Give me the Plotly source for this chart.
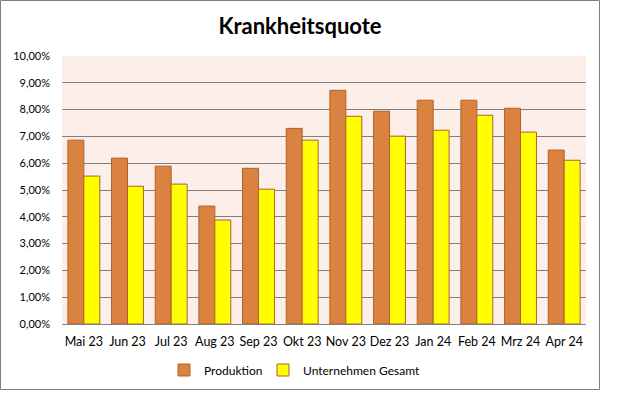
import plotly.graph_objects as go

months = ["Mai 23", "Jun 23", "Jul 23", "Aug 23", "Sep 23", "Okt 23",
          "Nov 23", "Dez 23", "Jan 24", "Feb 24", "Mrz 24", "Apr 24"]
produktion = [0.0686, 0.0619, 0.0589, 0.0440, 0.0581, 0.0730,
              0.0872, 0.0794, 0.0835, 0.0835, 0.0805, 0.0649]
gesamt = [0.0552, 0.0514, 0.0522, 0.0388, 0.0503, 0.0686,
          0.0775, 0.0701, 0.0723, 0.0779, 0.0716, 0.0611]
y_ticks = [i / 100 for i in range(0, 11)]
y_labels = [f"{i},00%" for i in range(0, 11)]

W, H = 626, 399
L, R, T, B = 62, 40, 56, 75
pw, ph = W - L - R, H - T - B

font = "Lato, 'Open Sans', sans-serif"

fig = go.Figure()
fig.add_trace(go.Bar(x=months, y=produktion, name="Produktion", legend="legend",
                     marker=dict(color="#DA823F", line=dict(color="#B0622A", width=1))))
fig.add_trace(go.Bar(x=months, y=gesamt, name="Unternehmen Gesamt", legend="legend2",
                     marker=dict(color="#FFFF00", line=dict(color="#B0622A", width=1))))

def px_x(p):
    return (p - L) / pw

def px_y(p):
    return (H - B - p) / ph

legend_common = dict(orientation="h", xanchor="left", y=px_y(370), yanchor="middle",
                     font=dict(size=12, family=font, color="black"), itemwidth=30,
                     bgcolor="rgba(0,0,0,0)")

fig.update_layout(
    width=W, height=H,
    margin=dict(l=L, r=R, t=T, b=B, pad=0),
    paper_bgcolor="white",
    plot_bgcolor="#FCEEE9",
    barmode="group",
    bargap=0.27,
    bargroupgap=0,
    font=dict(family=font, size=11, color="black"),
    title=dict(text="<b>Krankheitsquote</b>", xref="container", x=300 / W, xanchor="center",
               yref="container", y=1 - 26 / H, yanchor="middle",
               font=dict(size=22, color="black", family=font)),
    showlegend=True,
    legend=dict(x=px_x(164), **legend_common),
    legend2=dict(x=px_x(263), **legend_common),
    xaxis=dict(showgrid=False, showline=True, linecolor="#808080", linewidth=1,
               ticks="", ticklabelstandoff=6, tickfont=dict(size=12.5), fixedrange=True),
    yaxis=dict(range=[0, 0.1], tickvals=y_ticks, ticktext=y_labels,
               showgrid=True, gridcolor="#808080", gridwidth=1, zeroline=False,
               showline=False, ticks="", ticklabelstandoff=11,
               tickfont=dict(size=11), fixedrange=True),
    shapes=[dict(type="rect", xref="paper", yref="paper",
                 x0=px_x(0.5), x1=px_x(599.5), y0=px_y(389.5), y1=px_y(0.5),
                 line=dict(color="#808080", width=1), fillcolor="rgba(0,0,0,0)", layer="below")],
)

fig.write_html("out.html", config={"displayModeBar": False},
               post_script="document.body.style.margin='0px';document.body.style.overflow='hidden';")
